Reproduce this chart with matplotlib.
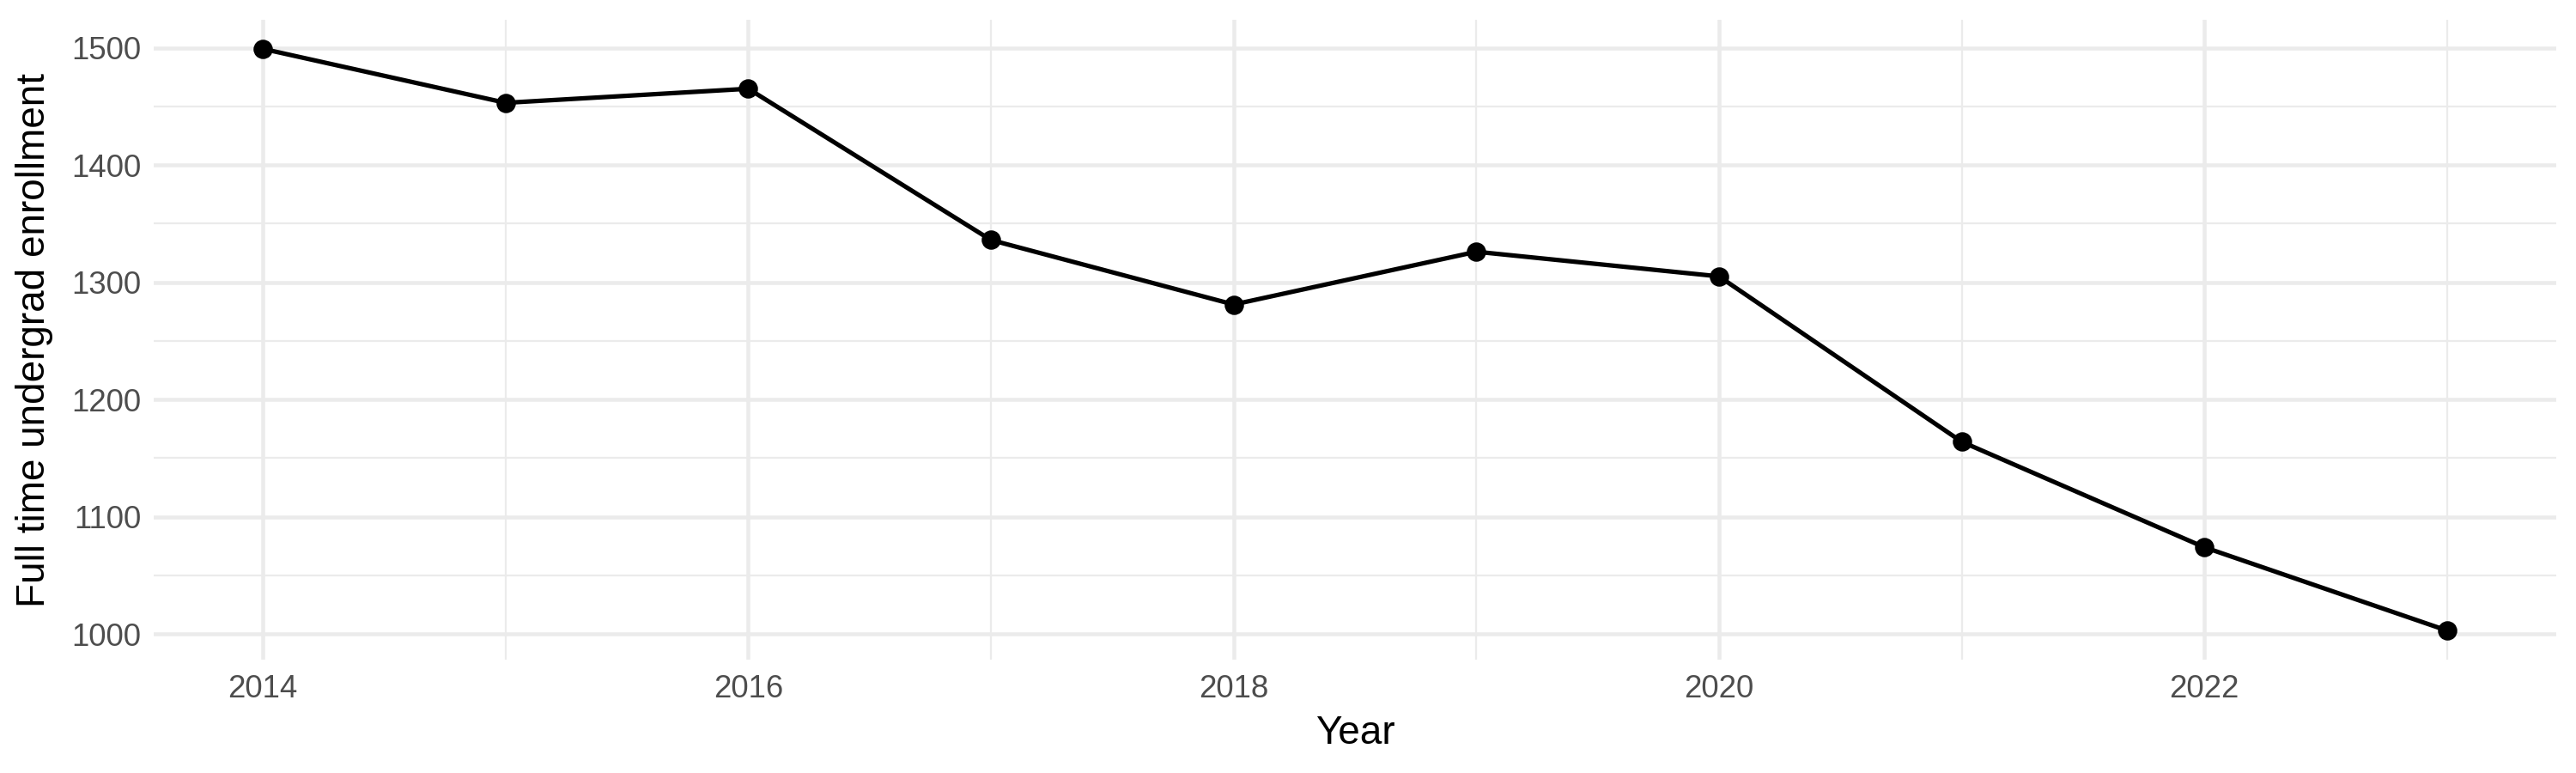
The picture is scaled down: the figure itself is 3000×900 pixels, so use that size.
import numpy as np
import matplotlib
matplotlib.use("Agg")
import matplotlib.pyplot as plt
from matplotlib.ticker import MultipleLocator

plt.rcParams['font.family'] = ['Liberation Sans', 'DejaVu Sans']

# data
years = [2014, 2015, 2016, 2017, 2018, 2019, 2020, 2021, 2022, 2023]
enrollment = [1499, 1453, 1465, 1336, 1281, 1326, 1305, 1164, 1074, 1003]

x_label = 'Year'
y_label = 'Full time undergrad enrollment'

fig = plt.figure(figsize=(10, 3), dpi=300)
ax = fig.add_axes([0.0597, 0.1467, 0.9326, 0.8277])

ax.plot(years, enrollment, color='black', lw=1.25, zorder=3)
ax.plot(years, enrollment, 'o', color='black', ms=4.4, zorder=4)

# ggplot style 5% expansion
xr = max(years) - min(years)
yr = max(enrollment) - min(enrollment)
ax.set_xlim(min(years) - 0.05 * xr, max(years) + 0.05 * xr)
ax.set_ylim(min(enrollment) - 0.05 * yr, max(enrollment) + 0.05 * yr)

ax.xaxis.set_major_locator(MultipleLocator(2))
ax.xaxis.set_minor_locator(MultipleLocator(1))
ax.yaxis.set_major_locator(MultipleLocator(100))
ax.yaxis.set_minor_locator(MultipleLocator(50))

ax.grid(which='major', color='#EBEBEB', lw=1.1, zorder=0)
ax.grid(which='minor', color='#EBEBEB', lw=0.55, zorder=0)
ax.set_axisbelow(True)

for s in ax.spines.values():
    s.set_visible(False)

ax.tick_params(which='both', length=0)
ax.tick_params(axis='x', labelsize=8.8, labelcolor='#4D4D4D', pad=4)
ax.tick_params(axis='y', labelsize=8.8, labelcolor='#4D4D4D', pad=3.5)

ax.set_xlabel(x_label, fontsize=11, color='black', labelpad=3)
ax.set_ylabel(y_label, fontsize=11, color='black', labelpad=5)

fig.savefig('out.png', dpi=300, facecolor='white')
